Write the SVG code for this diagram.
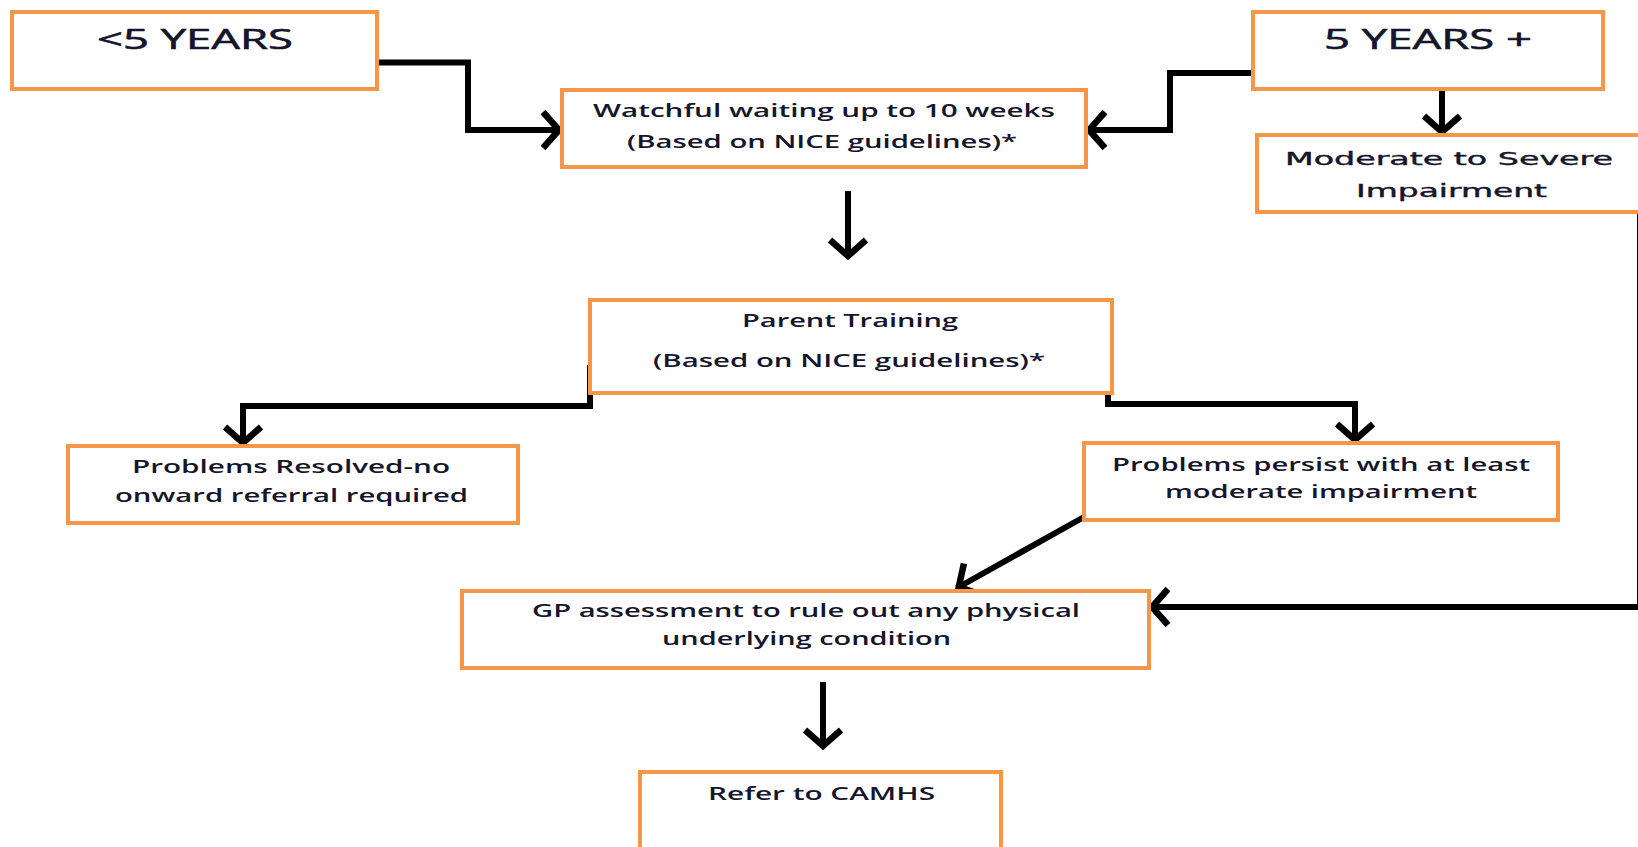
<svg xmlns="http://www.w3.org/2000/svg" width="1638" height="847" viewBox="0 0 1638 847">
<style>
.box{fill:#fff;stroke:#F79646;stroke-width:4}
.t{font-family:"Open Sans","Liberation Sans",sans-serif;font-weight:600;font-size:18px;fill:#15152b}
.big{font-size:27px;font-weight:normal;stroke:#15152b;stroke-width:0.6}
.v{font-family:"DejaVu Sans","Liberation Sans",sans-serif;font-weight:normal;font-size:18px;fill:#15152b;stroke:#15152b;stroke-width:0.4}
.c{fill:none;stroke:#000;stroke-width:6;marker-end:url(#ah)}
</style>
<defs>
<marker id="ah" markerUnits="userSpaceOnUse" markerWidth="48" markerHeight="48" viewBox="-32 -24 48 48" refX="0" refY="0" orient="auto">
<path d="M-18,-18 L-2,0 L-18,18" fill="none" stroke="#000" stroke-width="6.5"/>
</marker>
</defs>
<rect width="1638" height="847" fill="#fff"/>
<g id="connectors">
<path class="c" d="M377,62.5 H468 V130 H561"/>
<path class="c" d="M1253,73 H1170 V130 H1087"/>
<path class="c" d="M1442,89 V134"/>
<path class="c" d="M848,191 V258"/>
<path class="c" d="M590,365 V406 H243 V445"/>
<path class="c" d="M1108,365 V404 H1355 V442"/>
<path class="c" d="M1084,517 L957,588"/>
<path class="c" d="M1640,212 V607 H1150"/>
<path class="c" d="M823,682 V748"/>
</g>
<g id="n_lt5">
<rect class="box" x="12" y="12" width="365" height="77"/>
<text class="t big" x="97" y="49" textLength="196" lengthAdjust="spacingAndGlyphs">&lt;5 YEARS</text>
</g>
<g id="n_5plus">
<rect class="box" x="1253" y="12" width="350" height="77"/>
<text class="t big" x="1324" y="49" textLength="208" lengthAdjust="spacingAndGlyphs">5 YEARS +</text>
</g>
<g id="n_watchful">
<rect class="box" x="562" y="90" width="524" height="77"/>
<text class="t" x="593" y="117" textLength="462" lengthAdjust="spacingAndGlyphs">Watchful waiting up to 10 weeks</text>
<text class="t" x="627" y="148" textLength="390" lengthAdjust="spacingAndGlyphs">(Based on NICE guidelines)*</text>
</g>
<g id="n_moderate">
<rect class="box" x="1257" y="135" width="400" height="77"/>
<text class="v" x="1285" y="165" textLength="328" lengthAdjust="spacingAndGlyphs">Moderate to Severe</text>
<text class="v" x="1356" y="197" textLength="191" lengthAdjust="spacingAndGlyphs">Impairment</text>
</g>
<g id="n_parent">
<rect class="box" x="590" y="300" width="522" height="93"/>
<text class="t" x="742" y="327" textLength="216" lengthAdjust="spacingAndGlyphs">Parent Training</text>
<text class="t" x="653" y="367" textLength="392" lengthAdjust="spacingAndGlyphs">(Based on NICE guidelines)*</text>
</g>
<g id="n_resolved">
<rect class="box" x="68" y="446" width="450" height="77"/>
<text class="t" x="132" y="473" textLength="318" lengthAdjust="spacingAndGlyphs">Problems Resolved-no</text>
<text class="t" x="115" y="502" textLength="353" lengthAdjust="spacingAndGlyphs">onward referral required</text>
</g>
<g id="n_persist">
<rect class="box" x="1084" y="443" width="474" height="77"/>
<text class="t" x="1112" y="471" textLength="418" lengthAdjust="spacingAndGlyphs">Problems persist with at least</text>
<text class="t" x="1165" y="498" textLength="312" lengthAdjust="spacingAndGlyphs">moderate impairment</text>
</g>
<g id="n_gp">
<rect class="box" x="462" y="591" width="687" height="77"/>
<text class="t" x="532" y="617" textLength="548" lengthAdjust="spacingAndGlyphs">GP assessment to rule out any physical</text>
<text class="t" x="662" y="645" textLength="289" lengthAdjust="spacingAndGlyphs">underlying condition</text>
</g>
<g id="n_camhs">
<rect class="box" x="640" y="772" width="361" height="100"/>
<text class="t" x="708" y="800" textLength="227" lengthAdjust="spacingAndGlyphs">Refer to CAMHS</text>
</g>
</svg>
